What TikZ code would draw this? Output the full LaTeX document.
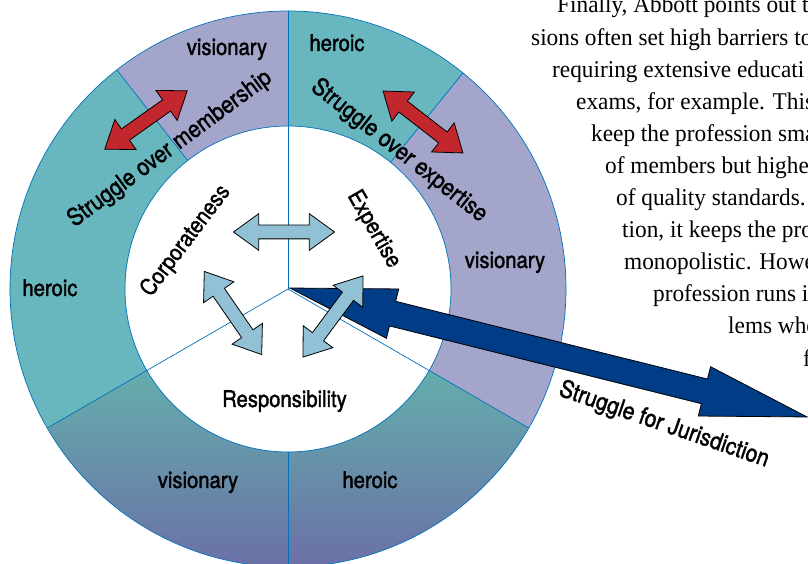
\documentclass[tikz,border=0pt]{standalone}
\usepackage{fontspec}
\setmainfont[FakeStretch=0.97]{Liberation Serif}
\newfontfamily\ringfont[FakeStretch=0.88, FakeBold=1.5]{TeX Gyre Heros}
\usetikzlibrary{shapes.arrows}

\definecolor{heroicteal}{RGB}{104,183,190}
\definecolor{visionpurple}{RGB}{163,165,202}
\definecolor{gradtop}{RGB}{100,174,172}
\definecolor{gradmid}{RGB}{141,189,212}
\definecolor{gradbot}{RGB}{107,112,166}
\definecolor{ringline}{RGB}{0,114,188}
\definecolor{struggred}{RGB}{193,39,45}
\definecolor{linkblue}{RGB}{146,192,213}
\definecolor{jurisblue}{RGB}{0,61,134}

\begin{document}
\begin{tikzpicture}[
    x=1pt, y=1pt,
    ringtext/.style={font=\ringfont\fontsize{23}{27}\selectfont, inner sep=0pt},
    struggletext/.style={font=\ringfont\fontsize{24}{28}\selectfont, inner sep=0pt},
    bodytext/.style={font=\fontsize{24}{30}\selectfont, anchor=base west, inner sep=0pt},
    divider/.style={draw=ringline, line width=0.7pt},
    smallarrow/.style={double arrow, draw=black, line width=0.8pt, inner xsep=0pt, inner ysep=6.5pt,
      double arrow head extend=11.5pt, double arrow tip angle=72, minimum height=101pt},
    redarrow/.style={smallarrow, fill=struggred},
    linkarrow/.style={smallarrow, fill=linkblue},
    bigarrow/.style={double arrow, draw=black, fill=jurisblue, line width=0.8pt, inner xsep=0pt, inner ysep=12.3pt,
      double arrow head extend=12.7pt, double arrow tip angle=27, minimum height=533pt}
  ]

  \useasboundingbox (0,0) rectangle (808,564);
  \clip (0,0) rectangle (808,564);
  \fill[white] (0,0) rectangle (808,564);

  \coordinate (ctr) at (288,275);

  % Ring segments
  \begin{scope}[shift={(ctr)}]
    \fill[visionpurple] (90:278) arc[start angle=90, end angle=128, radius=278] -- (128:163) arc[start angle=128, end angle=90, radius=163] -- cycle;
    \fill[heroicteal] (128:278) arc[start angle=128, end angle=210, radius=278] -- (210:163) arc[start angle=210, end angle=128, radius=163] -- cycle;
    \shade[top color=gradtop, middle color=gradmid, bottom color=gradbot] (210:278) arc[start angle=210, end angle=270, radius=278] -- (270:163) arc[start angle=270, end angle=210, radius=163] -- cycle;
    \shade[top color=gradtop, middle color=gradmid, bottom color=gradbot] (270:278) arc[start angle=270, end angle=330, radius=278] -- (330:163) arc[start angle=330, end angle=270, radius=163] -- cycle;
    \fill[visionpurple] (330:278) arc[start angle=330, end angle=411, radius=278] -- (51:163) arc[start angle=411, end angle=330, radius=163] -- cycle;
    \fill[heroicteal] (51:278) arc[start angle=51, end angle=90, radius=278] -- (90:163) arc[start angle=90, end angle=51, radius=163] -- cycle;

    % Outlines and spokes
    \draw[divider] (0,0) circle[radius=278];
    \draw[divider] (0,0) circle[radius=163];
    \draw[divider] (0,0) -- (90:278);
    \draw[divider] (0,0) -- (210:278);
    \draw[divider] (0,0) -- (330:278);
    \draw[divider] (128:163) -- (128:278);
    \draw[divider] (51:163) -- (51:278);
    \draw[divider] (270:163) -- (270:278);
  \end{scope}

  % Segment labels
  \node[ringtext, anchor=base] (vistop) at (227,509) {visionary};
  \node[ringtext, anchor=base] (hertop) at (337,513) {heroic};
  \node[ringtext, anchor=base] (herleft) at (50,268) {heroic};
  \node[ringtext, anchor=base] (visright) at (505,296) {visionary};
  \node[ringtext, anchor=base] (visbottom) at (198,76) {visionary};
  \node[ringtext, anchor=base] (herbottom) at (370,76) {heroic};

  % Inner labels
  \node[ringtext, anchor=base] (resp) at (284.5,157) {Responsibility};
  \node[ringtext, rotate=53] (corp) at (186,323) {Corporateness};
  \node[ringtext, rotate=-60] (expert) at (373.5,334.5) {Expertise};

  % Struggles
  \node[struggletext, rotate=36.5] (membership) at (170,415) {Struggle over membership};
  \node[struggletext, rotate=-38] (expertise) at (399,413) {Struggle over expertise};
  \node[struggletext, rotate=-19] (jurisdiction) at (664,139) {Struggle for Jurisdiction};

  % Jurisdiction arrow
  \node[bigarrow, rotate=-14] (jurisarrow) at (548.5,211.5) {};

  % Red arrows in the ring
  \node[redarrow, rotate=35.3] (memberarrow) at (146,444) {};
  \node[redarrow, rotate=-37.8] (expertarrow) at (423,442) {};

  % Light blue arrows inside
  \node[linkarrow] (corpexpert) at (284,332) {};
  \node[linkarrow, rotate=-55.4] (corpresp) at (233,251) {};
  \node[linkarrow, rotate=53.5] (expertresp) at (333,247.5) {};

  % Running text on the right
  \node[bodytext] (line1) at (557,551) {Finally, Abbott points out t};
  \node[bodytext] (line2) at (531,518.9) {sions often set high barriers to};
  \node[bodytext] (line3) at (552,486.8) {requiring extensive educati};
  \node[bodytext] (line4) at (576,454.7) {exams, for example. This};
  \node[bodytext] (line5) at (591,422.6) {keep the profession sma};
  \node[bodytext] (line6) at (605,390.5) {of members but highe};
  \node[bodytext] (line7) at (616,358.4) {of quality standards.};
  \node[bodytext] (line8) at (622,326.3) {tion, it keeps the pro};
  \node[bodytext] (line9) at (624,294.2) {monopolistic. Howe};
  \node[bodytext] (line10) at (653,262.1) {profession runs i};
  \node[bodytext] (line11) at (728,230) {lems whe};
  \node[bodytext] (line12) at (803,197.9) {f};

\end{tikzpicture}
\end{document}
